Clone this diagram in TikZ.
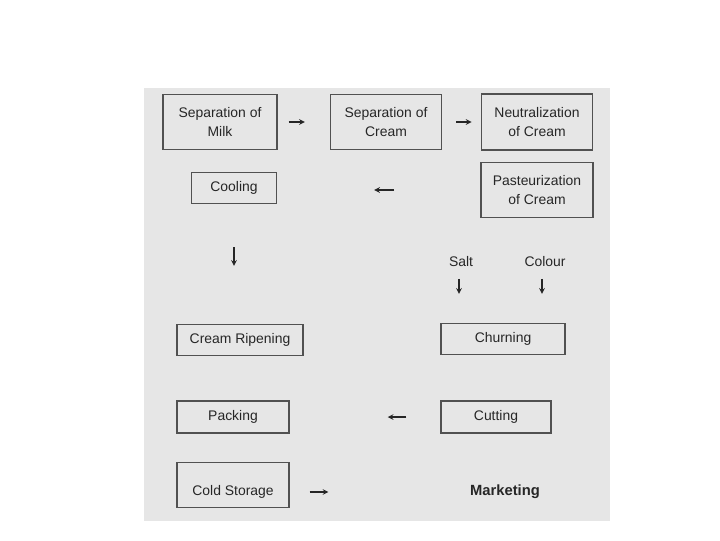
\documentclass[tikz,border=0pt]{standalone}
\usepackage{fontspec}
\setmainfont{Liberation Sans}
\usepackage{tikz}
\usetikzlibrary{arrows,positioning}
\definecolor{scan}{HTML}{E6E6E6}
\definecolor{ink}{HTML}{262626}
\begin{document}
\begin{tikzpicture}[x=0.025cm,y=-0.025cm,font=\fontsize{9.9}{14}\selectfont,>=stealth]%
            \useasboundingbox (0,0) rectangle (720,540); %%
            \fill[scan] (144,88) rectangle (610,521); %%
            \begin{scope}[align=center,text=ink,inner sep=0pt]%
            \tikzstyle{every node}=[draw=ink!80,line width=1pt] %%
            \node[minimum width=114*0.025cm,minimum height=55*0.025cm] (milk) at (220,122)  {Separation of\\Milk}; %%
            \node[minimum width=111*0.025cm,minimum height=55*0.025cm] (cream) at (386,122)  {Separation of\\Cream}; %%
            \node[minimum width=111*0.025cm,minimum height=56*0.025cm,line width=1.4pt] (neutral) at (537,122)  {Neutralization\\of Cream}; %%
            \node[minimum width=85*0.025cm,minimum height=31*0.025cm] (cooling) at (234,188)  {Cooling}; %%
            \node[minimum width=112*0.025cm,minimum height=55*0.025cm,line width=1.4pt] (pasteur) at (537,190)  {Pasteurization\\of Cream}; %%
            \node[minimum width=126*0.025cm,minimum height=31*0.025cm] (ripening) at (240,340)  {Cream Ripening}; %%
            \node[minimum width=124*0.025cm,minimum height=31*0.025cm] (churning) at (503,339)  {Churning}; %%
            \node[minimum width=112*0.025cm,minimum height=32*0.025cm] (packing) at (233,417)  {Packing}; %%
            \node[minimum width=110*0.025cm,minimum height=32*0.025cm] (cutting) at (496,417)  {Cutting}; %%
            \node[minimum width=112*0.025cm,text height=8.25mm,text depth=3mm] (storage) at (233,485)  {Cold Storage}; %%
            \end{scope}
            \node[text=ink,inner sep=1pt] (salt) at (461,262) {Salt}; %%
            \node[text=ink,inner sep=1pt] (colour) at (545,262) {Colour}; %%
            \node[text=ink,inner sep=1pt,font=\fontsize{10.5}{12}\selectfont\bfseries] (marketing) at (505,492) {Marketing}; %%
            \draw[->,ink,line width=0.8pt] (milk)--(cream) [shorten <=2.75mm,shorten >=6.25mm]; %%
            \draw[->,ink,line width=0.8pt] (cream)--(neutral) [shorten <=3.5mm,shorten >=2.25mm]; %%
            \draw[->,ink,line width=0.8pt] (pasteur.west)--(pasteur.west -| cooling.east) [shorten <=21.5mm,shorten >=24.25mm]; %%
            \draw[->,ink,line width=0.8pt] (cooling.south)--(cooling.south |- ripening.north) [shorten <=10.75mm,shorten >=14.5mm]; %%
            \draw[->,ink,line width=0.8pt] ([xshift=-2*0.025cm]salt.south)--([xshift=-2*0.025cm]salt.south |- churning.north) [shorten <=2.5mm,shorten >=7.25mm]; %%
            \draw[->,ink,line width=0.8pt] ([xshift=-3*0.025cm]colour.south)--([xshift=-3*0.025cm]colour.south |- churning.north) [shorten <=2.5mm,shorten >=7.25mm]; %%
            \draw[->,ink,line width=0.8pt] (cutting.west)--(packing.east) [shorten <=8.5mm,shorten >=24.5mm]; %%
            \draw[->,ink,line width=0.8pt] (storage.east |- marketing)--(marketing.west) [shorten <=5mm,shorten >=35mm]; %%
        \end{tikzpicture}
\end{document}
